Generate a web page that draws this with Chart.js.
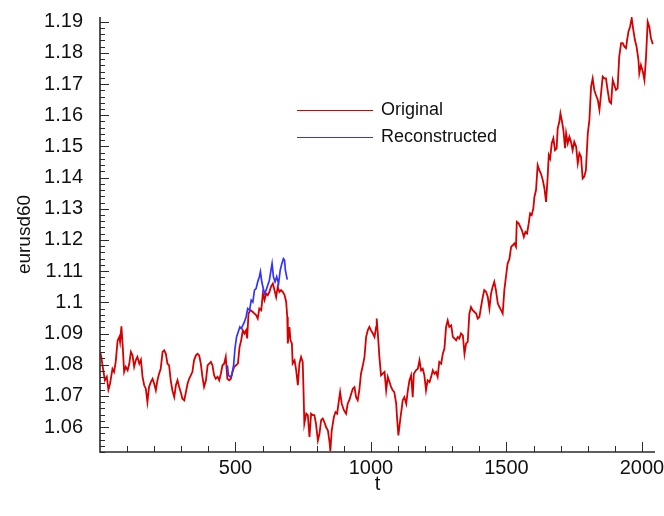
<!DOCTYPE html>
<html><head><meta charset="utf-8">
<script src="https://cdn.jsdelivr.net/npm/chart.js@4.4.1/dist/chart.umd.min.js"></script>
<style>html,body{margin:0;padding:0;background:#fff}#wrap{width:664px;height:516px;position:relative}</style>
</head><body><div id="wrap"><canvas id="c" width="664" height="516"></canvas></div>
<script>
const seriesNames = ['Original', 'Reconstructed'];
const redT = [1,5,13,18,25,31,37,46,52,58,65,71,74,79,84,89,95,102,108,114,120,126,132,138,145,151,157,163,169,175,181,188,194,200,206,212,218,224,231,237,243,249,255,261,267,274,280,286,292,298,304,311,317,323,329,335,341,347,354,360,366,372,378,384,391,397,403,409,415,421,427,434,440,446,452,458,464,470,477,483,489,495,
502,509,515,521,527,533,539,543,548,555,564,570,576,582,588,595,601,607,613,619,625,631,638,644,650,656,662,668,675,681,687,691,693,699,703,708,711,718,724,730,736,742,748,751,754,761,767,773,779,785,791,797,804,810,816,822,828,834,841,847,850,855,863,869,875,880,886,892,900,908,914,920,927,933,939,945,951,957,963,970,976,982,988,994,1000,1007,1013,1019,1021,1027,1031,1037,1043,1050,1056,1062,1068,1074,1080,1086,1093,1096,1101,1109,1114,1117,1123,1130,1136,1142,1148,1154,1158,1166,1173,1179,1185,1191,1197,1203,
1209,1216,1222,1228,1234,1240,1246,1252,1259,1265,1271,1277,1283,1289,1296,1302,1308,1314,1320,1326,1332,1339,1345,1351,1357,1363,1369,1375,1382,1388,1394,1400,1406,1412,
1418,1425,1431,1437,1443,1449,1455,1461,1468,1474,1480,1486,1492,1498,1504,1511,1517,1523,1529,1535,1538,1545,1551,1557,1564,1570,1576,1582,1587,1593,1599,1603,1609,1615,1621,1627,1634,1640,1646,1652,1656,1661,1667,1673,1679,1685,1689,1695,1699,1705,1710,1716,
1720,1726,1732,1738,1744,1750,1757,1763,1769,1775,1781,1787,1793,1800,1806,1812,1818,1824,1830,1837,1843,1849,1855,1861,1867,1873,1880,1886,1892,1898,1904,1910,1916,1923,1929,1935,1941,1945,1950,1956,1962,1968,1974,1980,1987,1990,1996,2003,2009,2015,2021,2027,2033,2040];
const redV = [1.0840,1.0823,1.0777,1.0750,1.0761,1.0720,1.0739,1.0787,1.0777,1.0809,1.0878,1.0889,1.0873,1.0923,1.0857,1.0777,1.0793,1.0782,1.0803,1.0841,1.0830,1.0793,1.0814,1.0825,1.0803,1.0816,1.0761,1.0734,1.0723,1.0680,1.0729,1.0745,1.0755,1.0739,1.0718,1.0750,1.0771,1.0787,1.0841,1.0846,1.0835,1.0803,1.0798,1.0750,1.0718,1.0696,1.0734,1.0750,1.0729,1.0712,1.0691,1.0686,1.0712,1.0739,1.0755,1.0766,1.0777,1.0814,1.0830,1.0835,1.0830,1.0803,1.0761,1.0729,1.0750,1.0798,1.0803,1.0809,1.0798,1.0766,1.0755,1.0761,1.0750,1.0771,1.0798,1.0803,1.0825,1.0755,1.0750,1.0755,1.0777,1.0793,
1.0798,1.0804,1.0857,1.0878,1.0910,1.0900,1.0910,1.0884,1.0964,1.0975,1.0969,1.0964,1.0959,1.0948,1.0980,1.0975,1.1028,1.1007,1.1028,1.1023,1.1033,1.1050,1.1060,1.1039,1.1017,1.1050,1.1033,1.1039,1.1033,1.1023,1.1001,1.0953,1.0868,1.0921,1.0878,1.0868,1.0804,1.0814,1.0782,1.0734,1.0804,1.0825,1.0809,1.0718,1.0611,1.0643,1.0638,1.0568,1.0643,1.0638,1.0638,1.0611,1.0557,1.0579,1.0622,1.0627,1.0616,1.0600,1.0589,1.0552,1.0523,1.0589,1.0632,1.0648,1.0643,1.0675,1.0712,1.0675,1.0654,1.0643,1.0675,1.0686,1.0707,1.0723,1.0728,1.0696,1.0686,1.0718,1.0771,1.0798,1.0825,1.0889,1.0910,1.0921,1.0910,1.0900,1.0889,1.0921,1.0948,1.0878,1.0825,1.0766,1.0771,1.0777,1.0718,1.0761,1.0745,1.0729,1.0718,1.0712,1.0675,1.0632,1.0573,1.0632,1.0664,1.0686,1.0696,1.0675,1.0718,1.0750,1.0766,1.0696,1.0771,1.0782,1.0787,1.0814,1.0782,1.0787,1.0766,1.0718,
1.0750,1.0744,1.0761,1.0782,1.0771,1.0777,1.0761,1.0809,1.0803,1.0835,1.0852,1.0921,1.0942,1.0921,1.0926,1.0889,1.0884,1.0878,1.0889,1.0884,1.0900,1.0894,1.0835,1.0868,1.0873,1.0964,1.0985,1.0975,1.0969,1.0964,1.0948,1.0953,1.0985,1.1015,
1.1039,1.1033,1.1017,1.0980,1.1028,1.1050,1.1066,1.1039,1.0996,1.0985,1.0975,1.0964,1.1039,1.1082,1.1124,1.1140,1.1178,1.1183,1.1189,1.1178,1.1258,1.1253,1.1242,1.1231,1.1210,1.1226,1.1221,1.1253,1.1285,1.1280,1.1301,1.1338,1.1360,1.1440,1.1424,1.1413,1.1392,1.1365,1.1322,1.1403,1.1472,1.1461,1.1510,1.1526,1.1488,1.1494,1.1558,1.1579,1.1606,1.1579,1.1552,1.1494,
1.1542,1.1510,1.1531,1.1515,1.1488,1.1515,1.1499,1.1446,1.1478,1.1467,1.1397,1.1403,1.1424,1.1542,1.1585,1.1691,1.1718,1.1681,1.1665,1.1649,1.1617,1.1670,1.1724,1.1718,1.1718,1.1681,1.1643,1.1638,1.1713,1.1697,1.1681,1.1686,1.1788,1.1831,1.1831,1.1820,1.1815,1.1841,1.1868,1.1884,1.1911,1.1873,1.1841,1.1820,1.1777,1.1734,1.1761,1.1740,1.1713,1.1788,1.1900,1.1884,1.1847,1.1828];
const blueT = [470,474,480,486,493,498,504,510,516,521,527,533,539,545,552,558,564,570,576,582,588,592,597,601,607,613,619,625,631,635,640,646,652,659,665,671,677,681,684,691];
const blueV = [1.0798,1.0766,1.0761,1.0766,1.0798,1.0852,1.0889,1.0905,1.0921,1.0916,1.0926,1.0937,1.0953,1.0980,1.0975,1.1007,1.1001,1.1039,1.1044,1.1066,1.1082,1.1098,1.1066,1.1050,1.1028,1.1039,1.1055,1.1071,1.1103,1.1124,1.1082,1.1066,1.1082,1.1060,1.1103,1.1124,1.1140,1.1135,1.1103,1.1073];
const yTickValues = [1.06,1.07,1.08,1.09,1.1,1.11,1.12,1.13,1.14,1.15,1.16,1.17,1.18,1.19];
const xTickValues = [500,1000,1500,2000];

const RED = 'rgb(214,0,0)';
const BLUE = 'rgb(51,51,255)';
const FONT = "'Liberation Sans', Arial, sans-serif";

const toPts = (ts, vs) => ts.map((t, i) => ({x: t, y: vs[i]}));

const axesPlugin = {
  id: 'innerAxes',
  afterDatasetsDraw(chart) {
    const {ctx, chartArea: a, scales: {x, y}} = chart;
    ctx.save();
    ctx.strokeStyle = '#2a2a2a';
    ctx.lineWidth = 1;
    ctx.beginPath();
    for (let k = 526; k <= 595; k++) {
      const py = Math.round(y.getPixelForValue(k / 500)) + 0.5;
      ctx.moveTo(a.left, py);
      ctx.lineTo(a.left + (k % 5 === 0 ? 9 : 5), py);
    }
    for (let k = 1; k <= 20; k++) {
      const px = Math.round(x.getPixelForValue(k * 100)) + 0.5;
      ctx.moveTo(px, a.bottom);
      ctx.lineTo(px, a.bottom - (k % 5 === 0 ? 10 : 6));
    }
    ctx.stroke();
    ctx.lineWidth = 1.6;
    ctx.beginPath();
    ctx.moveTo(a.left, a.top);
    ctx.lineTo(a.left, a.bottom);
    ctx.lineTo(a.right, a.bottom);
    ctx.stroke();
    // legend
    const items = [[seriesNames[0], RED, 110], [seriesNames[1], BLUE, 137]];
    ctx.font = "18px " + FONT;
    ctx.textBaseline = 'middle';
    ctx.fillStyle = '#111';
    items.forEach(([name, col, ly]) => {
      ctx.strokeStyle = col;
      ctx.lineWidth = 1.2;
      ctx.beginPath();
      ctx.moveTo(297, ly + 0.5);
      ctx.lineTo(373, ly + 0.5);
      ctx.stroke();
      ctx.fillText(name, 381, ly);
    });
    ctx.restore();
  }
};

new Chart(document.getElementById('c'), {
  type: 'line',
  data: {
    datasets: [
      {label: seriesNames[1], data: toPts(blueT, blueV), borderColor: BLUE, borderWidth: 1.7, pointRadius: 0, tension: 0, order: 0},
      {label: seriesNames[0], data: toPts(redT, redV), borderColor: RED, borderWidth: 1.8, pointRadius: 0, tension: 0, order: 1}
    ]
  },
  options: {
    responsive: false,
    animation: false,
    layout: {padding: {top: 17, right: 9, left: 0, bottom: 0}},
    plugins: {legend: {display: false}, tooltip: {enabled: false}},
    scales: {
      x: {
        type: 'linear', min: 0, max: 2048,
        grid: {display: false, drawTicks: false},
        border: {display: false},
        afterBuildTicks: s => { s.ticks = xTickValues.map(v => ({value: v})); },
        afterFit: s => { s.height = 64; s.paddingLeft = 0; s.paddingRight = 0; },
        ticks: {color: '#111', font: {family: FONT, size: 20}, padding: 4, maxRotation: 0,
          callback: v => String(v)},
        title: {display: true, text: 't', color: '#111', font: {family: FONT, size: 20}, padding: {top: 0, bottom: 20}}
      },
      y: {
        type: 'linear', min: 1.052, max: 1.1915,
        grid: {display: false, drawTicks: false},
        border: {display: false},
        afterBuildTicks: s => { s.ticks = yTickValues.map(v => ({value: v})); },
        afterFit: s => { s.width = 100; s.paddingTop = 0; s.paddingBottom = 0; },
        ticks: {color: '#111', font: {family: FONT, size: 20}, padding: 17,
          callback: v => String(Number(v.toFixed(2)))},
        title: {display: true, text: 'eurusd60', color: '#111', font: {family: FONT, size: 19}, padding: {top: 13, bottom: 0}}
      }
    }
  },
  plugins: [axesPlugin]
});
</script>
</body></html>
